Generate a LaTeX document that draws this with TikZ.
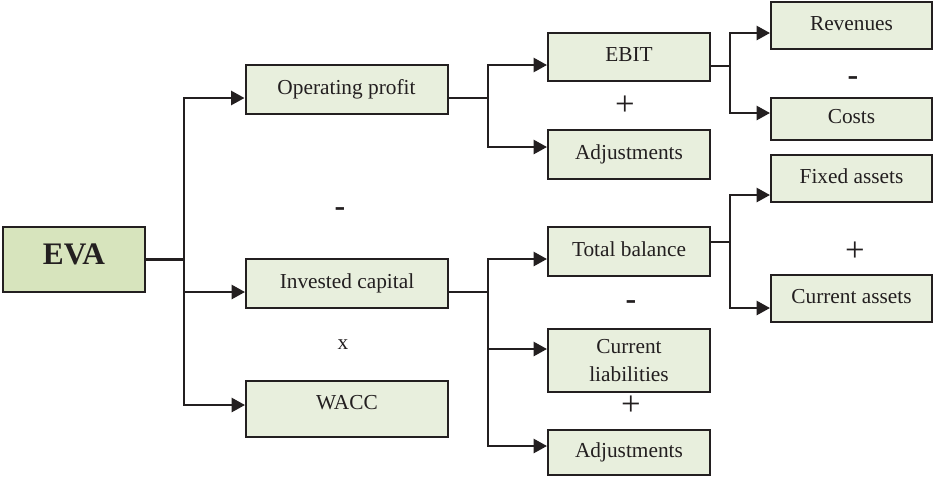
\documentclass[tikz,border=0pt]{standalone}
\usepackage{fontspec}
\setmainfont{Liberation Serif}
\usetikzlibrary{arrows.meta}

\definecolor{boxgreen}{RGB}{232,239,221}
\definecolor{evagreen}{RGB}{215,228,189}
\definecolor{ink}{RGB}{35,31,32}

\tikzset{
  block/.style={rectangle,draw=ink,line width=1.5pt,fill=boxgreen,text=ink,
                inner sep=0pt,font=\fontsize{16}{21.5}\selectfont},
  single/.style={block,text height=11pt,text depth=4pt},
  lvlone/.style={single,minimum width=151.5pt,minimum height=36.75pt},
  lvltwo/.style={single,minimum width=121.5pt,minimum height=36.75pt},
  lvlthree/.style={single,minimum width=120.75pt,minimum height=35.25pt},
  link/.style={draw=ink,line width=1.8pt},
  feed/.style={link,-{Triangle[length=10pt,width=10.5pt]}},
  minussign/.style={text=ink,inner sep=0pt,font=\fontsize{24}{24}\selectfont\bfseries},
  plussign/.style={text=ink,inner sep=0pt,font=\fontsize{26}{26}\selectfont},
  timessign/.style={text=ink,inner sep=0pt,font=\fontsize{16}{16}\selectfont}
}

\begin{document}
\begin{tikzpicture}[x=0.75pt,y=-0.75pt]
  \useasboundingbox(0,0)rectangle(934,476);
  % root
  \node[single,fill=evagreen,minimum width=106.5pt,minimum height=48.75pt,
        font=\fontsize{23.5}{28}\selectfont\bfseries](eva)at(74,259.5){EVA};
  % first level
  \node[lvlone](op)at(346.5,89.5){Operating profit};
  \node[lvlone](ic)at(347,283.5){Invested capital};
  \node[lvlone,minimum height=42pt,text depth=11pt](wacc)at(347,409){WACC};
  % second level
  \node[lvltwo,minimum height=36pt](ebit)at(629,57){EBIT};
  \node[lvltwo](adja)at(629,154.5){Adjustments};
  \node[lvltwo](tb)at(629,251.5){Total balance};
  \node[block,minimum width=121.5pt,minimum height=47.25pt,align=center](cl)
        at(629,360.5){Current\\liabilities};
  \node[lvltwo,minimum height=33.75pt](adjb)at(629,452.5){Adjustments};
  % third level
  \node[lvlthree](rev)at(851.5,25.5){Revenues};
  \node[lvlthree,minimum height=31.5pt](cost)at(851.5,119){Costs};
  \node[lvlthree](fa)at(851.5,178.5){Fixed assets};
  \node[lvlthree](ca)at(851.5,298.5){Current assets};
  % operators
  \node[minussign](mina)at(853,81){-};
  \node[plussign](plusa)at(625,106){+};
  \node[minussign](minb)at(340,212){-};
  \node[plussign](plusb)at(855,252){+};
  \node[minussign](minc)at(631,305){-};
  \node[timessign](mul)at(343,345){x};
  \node[plussign](plusc)at(631,406){+};
  % junctions
  \coordinate(jeva)at(184,259.5);
  \coordinate(jop)at(488,98);
  \coordinate(jebit)at(730,66);
  \coordinate(jic)at(488,292);
  \coordinate(jtb)at(730,242);
  % connectors
  \draw[link](eva.east)--(jeva);
  \draw[feed](jeva)|-(op.west|-0,98);
  \draw[feed](jeva)|-(ic.west|-0,292);
  \draw[feed](jeva)|-(wacc.west|-0,405);
  \draw[link](op.east|-jop)--(jop);
  \draw[feed](jop)|-(ebit.west|-0,65);
  \draw[feed](jop)|-(adja.west|-0,147);
  \draw[link](ebit.east|-jebit)--(jebit);
  \draw[feed](jebit)|-(rev.west|-0,33);
  \draw[feed](jebit)|-(cost.west|-0,113);
  \draw[link](ic.east|-jic)--(jic);
  \draw[feed](jic)|-(tb.west|-0,259);
  \draw[feed](jic)|-(cl.west|-0,349);
  \draw[feed](jic)|-(adjb.west|-0,446);
  \draw[link](tb.east|-jtb)--(jtb);
  \draw[feed](jtb)|-(fa.west|-0,195);
  \draw[feed](jtb)|-(ca.west|-0,308);
\end{tikzpicture}
\end{document}
